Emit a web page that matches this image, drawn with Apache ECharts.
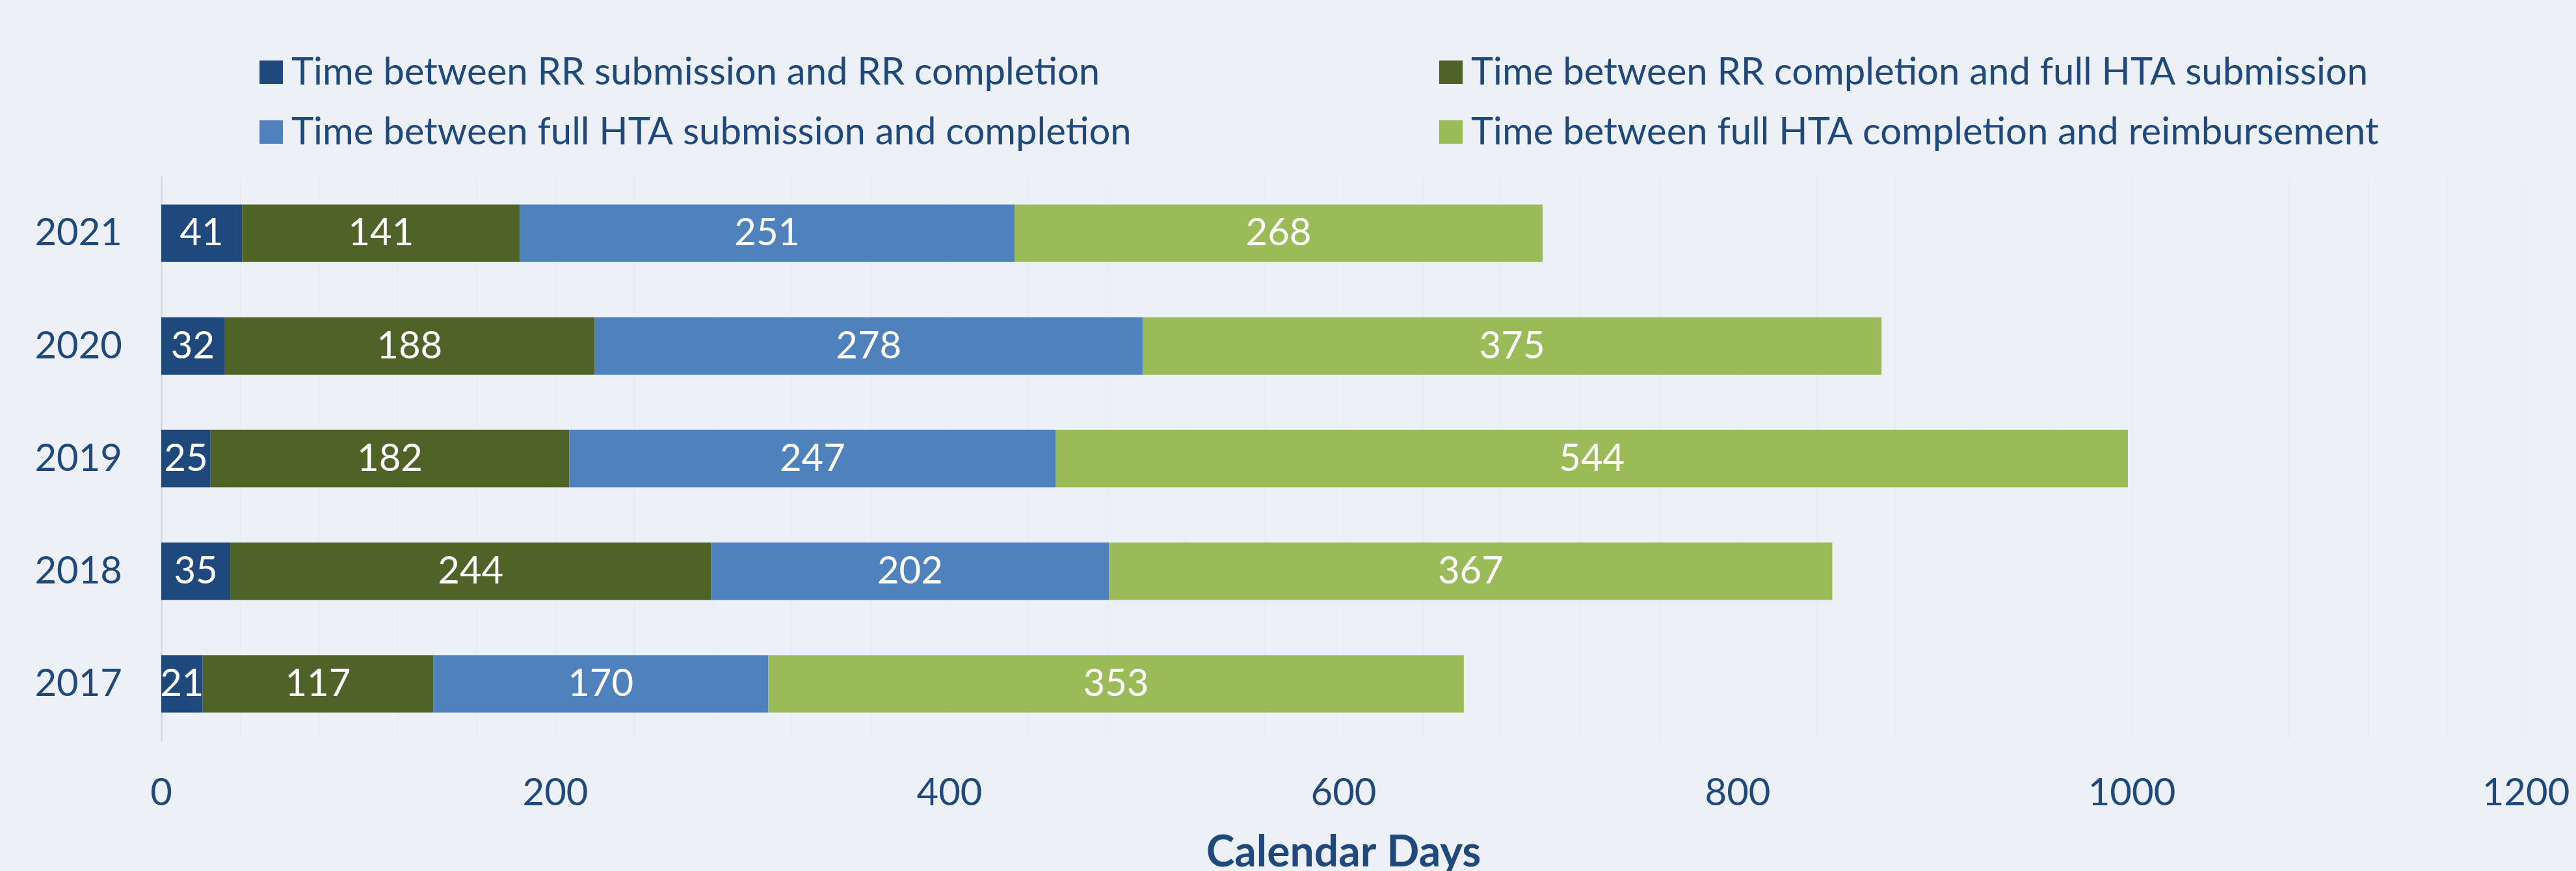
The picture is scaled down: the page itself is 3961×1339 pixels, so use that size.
<!DOCTYPE html>
<html lang="en">
<head>
    <meta charset="UTF-8">
    <title>HTA timelines</title>
    <script src="https://cdn.jsdelivr.net/npm/echarts@6/dist/echarts.min.js"></script>
    <style>
        html, body { margin: 0; padding: 0; background: #edf0f7; }
    </style>
</head>
<body>
<div id="main" style="width: 3961px;height:1339px;"></div>
<script>
    // data
    var years = ['2017', '2018', '2019', '2020', '2021'];
    var rrSubToRrDone = [21, 35, 25, 32, 41];
    var rrDoneToHtaSub = [117, 244, 182, 188, 141];
    var htaSubToHtaDone = [170, 202, 247, 278, 251];
    var htaDoneToReimb = [353, 367, 544, 375, 268];
    var seriesNames = [
        'Time between RR submission and RR completion',
        'Time between RR completion and full HTA submission',
        'Time between full HTA submission and completion',
        'Time between full HTA completion and reimbursement'
    ];
    var colors = ['#1f497d', '#4f6228', '#4f81bd', '#9bbb59'];

    var textColor = '#1f497d';
    var fontFamily = 'Lato';

    var myChart = echarts.init(document.getElementById('main'));

    function makeBar(name, values, color) {
        return {
            name: name,
            type: 'bar',
            stack: 'total',
            barWidth: '51%',
            data: values,
            itemStyle: { color: color },
            label: {
                show: true,
                position: 'inside',
                color: '#ffffff',
                fontSize: 58,
                fontFamily: fontFamily
            }
        };
    }

    var legendText = {
        color: textColor,
        fontSize: 58,
        fontFamily: fontFamily,
        padding: [0, 0, 0, 8]
    };

    var option = {
        backgroundColor: '#edf0f7',
        legend: [{
            orient: 'vertical',
            left: 394,
            top: 77,
            itemWidth: 36,
            itemHeight: 36,
            itemGap: 34,
            icon: 'rect',
            data: [seriesNames[0], seriesNames[2]],
            textStyle: legendText
        }, {
            orient: 'vertical',
            left: 2208,
            top: 77,
            itemWidth: 36,
            itemHeight: 36,
            itemGap: 34,
            icon: 'rect',
            data: [seriesNames[1], seriesNames[3]],
            textStyle: legendText
        }],
        grid: {
            left: 248,
            right: 77,
            top: 272,
            bottom: 201,
            outerBoundsMode: 'none'
        },
        xAxis: {
            type: 'value',
            min: 0,
            max: 1200,
            interval: 200,
            name: 'Calendar Days',
            nameLocation: 'middle',
            nameGap: 140,
            nameTextStyle: {
                color: textColor,
                fontSize: 66,
                fontWeight: 'bold',
                fontFamily: fontFamily
            },
            axisLine: { show: false },
            axisTick: { show: false },
            axisLabel: {
                color: textColor,
                fontSize: 58,
                fontFamily: fontFamily,
                margin: 52,
                formatter: function (v) { return String(v); }
            },
            splitLine: { show: true, lineStyle: { color: '#e6e9f0', width: 1 } },
            minorTick: { show: false, splitNumber: 5 },
            minorSplitLine: { show: true, lineStyle: { color: '#e6e9f0', width: 1 } }
        },
        yAxis: {
            type: 'category',
            data: years,
            axisTick: { show: false },
            axisLine: { show: true, lineStyle: { color: '#d9d9d9', width: 3 } },
            axisLabel: {
                color: textColor,
                fontSize: 58,
                fontFamily: fontFamily,
                margin: 60
            }
        },
        series: [
            makeBar(seriesNames[0], rrSubToRrDone, colors[0]),
            makeBar(seriesNames[1], rrDoneToHtaSub, colors[1]),
            makeBar(seriesNames[2], htaSubToHtaDone, colors[2]),
            makeBar(seriesNames[3], htaDoneToReimb, colors[3])
        ]
    };
    myChart.setOption(option);
</script>
</body>
</html>
